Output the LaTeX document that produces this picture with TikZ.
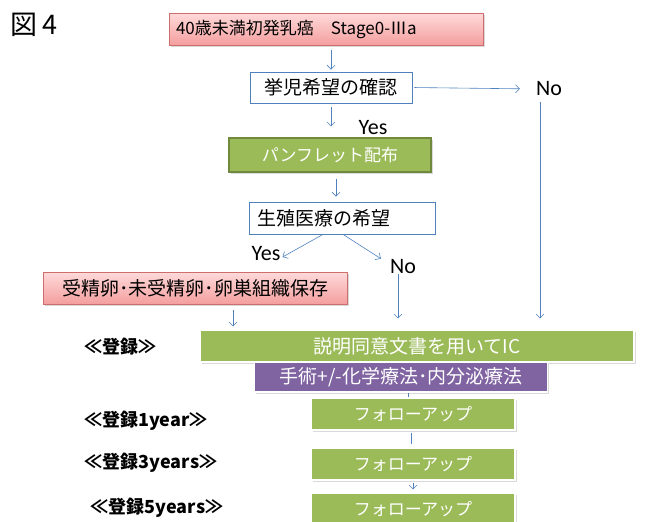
\documentclass[tikz,border=0pt]{standalone}
\usepackage{fontspec}
\setmainfont{Noto Sans CJK JP}
\newfontfamily\latinfont{Carlito}
\usetikzlibrary{arrows.meta, calc, shadows}
\definecolor{boxblue}{RGB}{79,129,189}
\definecolor{leaf}{RGB}{155,187,89}
\definecolor{leafdark}{RGB}{113,137,63}
\definecolor{grape}{RGB}{128,100,162}
\definecolor{rosetop}{RGB}{255,218,218}
\definecolor{rosebot}{RGB}{244,158,158}
\definecolor{roseline}{RGB}{205,110,108}

\begin{document}
\begin{tikzpicture}[x=1pt, y=-1pt,
	conn/.style={draw=boxblue, line width=0.6pt},
	arr/.style={conn, -{Straight Barb[length=4pt, width=8pt]}},
	shade/.style={drop shadow={opacity=0.3, shadow xshift=1.5pt, shadow yshift=-1.5pt}},
	askbox/.style={draw=boxblue, line width=0.8pt, fill=white, inner sep=0pt, font=\fontsize{19}{19}\selectfont},
	rosebox/.style={draw=roseline, line width=0.6pt, top color=rosetop, bottom color=rosebot, inner sep=0pt, shade},
	leafbox/.style={draw=white, line width=1.2pt, fill=leaf, text=white, inner sep=0pt, shade},
	grapebox/.style={draw=white, line width=1.2pt, fill=grape, text=white, inner sep=0pt, shade},
	ynlabel/.style={inner sep=0pt, font=\latinfont\fontsize{22}{22}\selectfont},
	reglabel/.style={inner sep=0pt, font=\bfseries\fontsize{18}{18}\selectfont}]
	\useasboundingbox (0,0) rectangle (664,522);
	% title
	\node[inner sep=0pt, font=\fontsize{27}{27}\selectfont] (fig) at (34,25) {図\,4};
	% decision part
	\node[rosebox, minimum width=314pt, minimum height=32pt, text width=300pt, align=left, font=\fontsize{17}{17}\selectfont] (top) at (326,29) {40歳未満初発乳癌　Stage0-Ⅲa};
	\node[askbox, minimum width=162pt, minimum height=31pt] (kyoji) at (331,87.5) {挙児希望の確認};
	\node[ynlabel] (no1) at (549,89) {No};
	\node[ynlabel] (yes1) at (373,128) {Yes};
	\node[leafbox, draw=leafdark, minimum width=202pt, minimum height=34pt, font=\fontsize{17}{17}\selectfont] (pamph) at (330,155) {パンフレット配布};
	\node[askbox, minimum width=186pt, minimum height=32pt, text width=170pt, align=left] (seishoku) at (342,218) {生殖医療の希望};
	\node[ynlabel] (yes2) at (266,254) {Yes};
	\node[ynlabel] (no2) at (403,267) {No};
	\node[rosebox, minimum width=304pt, minimum height=32pt, font=\fontsize{19}{19}\selectfont] (hozon) at (195,288) {受精卵･未受精卵･卵巣組織保存};
	% registration part
	\node[leafbox, minimum width=434pt, minimum height=32pt, font=\fontsize{19}{19}\selectfont] (ic) at (417,346) {説明同意文書を用いてIC};
	\node[grapebox, minimum width=293pt, minimum height=30pt, font=\fontsize{19}{19}\selectfont] (chiryo) at (401,377) {手術+/-化学療法･内分泌療法};
	\node[leafbox, minimum width=204pt, minimum height=32pt, font=\fontsize{17}{17}\selectfont] (fu1) at (413,414) {フォローアップ};
	\node[leafbox, minimum width=204pt, minimum height=32pt, font=\fontsize{17}{17}\selectfont] (fu2) at (413,464) {フォローアップ};
	\node[leafbox, minimum width=204pt, minimum height=32pt, font=\fontsize{17}{17}\selectfont] (fu3) at (413,509) {フォローアップ};
	\node[reglabel] (reg0) at (120,347) {≪登録≫};
	\node[reglabel] (reg1) at (146,421) {≪登録1year≫};
	\node[reglabel] (reg3) at (151,463) {≪登録3years≫};
	\node[reglabel] (reg5) at (157,508) {≪登録5years≫};
	% connectors
	\draw[arr, shorten <=5pt, shorten >=2pt] (top.south -| kyoji.north) -- (kyoji.north);
	\draw[arr, shorten <=2pt, shorten >=16pt] (kyoji.east) -- (no1.west);
	\draw[arr, shorten <=4pt, shorten >=11pt] (kyoji.south) -- (kyoji.south |- pamph.north);
	\draw[arr, shorten <=6pt, shorten >=5pt] ([xshift=6pt]pamph.south) -- ([xshift=6pt]pamph.south |- seishoku.north);
	\draw[arr] ([xshift=-19pt]seishoku.south) -- ([xshift=2pt,yshift=-3pt]yes2.east);
	\draw[arr] ([xshift=1pt]seishoku.south) -- ([xshift=-9pt,yshift=1pt]no2.north west);
	\draw[arr, shorten <=6pt, shorten >=11pt] ([xshift=-9pt]no1.south) -- ([xshift=-9pt]no1.south |- ic.north);
	\draw[arr, shorten <=0pt, shorten >=11pt] ([xshift=-5pt]no2.south) -- ([xshift=-5pt]no2.south |- ic.north);
	\draw[arr, shorten <=6pt, shorten >=3pt] ([xshift=38pt]hozon.south) -- ([xshift=38pt]hozon.south |- ic.north);
	\draw[conn] ([xshift=7pt]chiryo.south) -- ([xshift=7pt]chiryo.south |- fu1.north);
	\draw[conn, shorten <=2pt, shorten >=3pt] ([xshift=-2pt]fu1.south) -- ([xshift=-2pt]fu1.south |- fu2.north);
	\draw[arr, shorten <=2pt, shorten >=3pt] (fu2.south) -- (fu3.north);
\end{tikzpicture}
\end{document}
